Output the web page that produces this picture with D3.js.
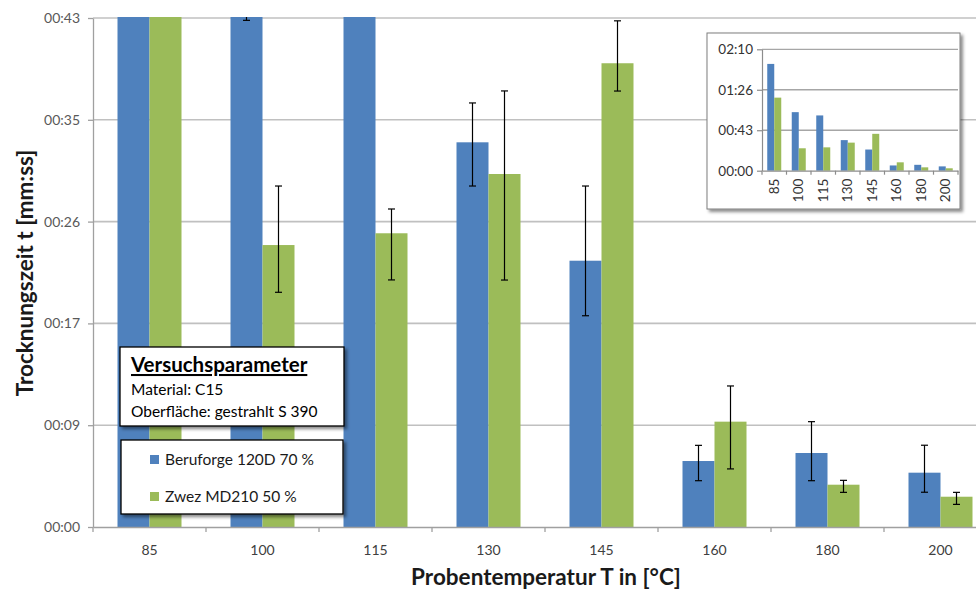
<!DOCTYPE html>
<html>
<head>
<meta charset="utf-8">
<script src="https://cdn.jsdelivr.net/npm/d3@7/dist/d3.min.js"></script>
<style>
    body { margin: 0; background: #fff; }
    svg { display: block; font-family: Lato, "Open Sans", sans-serif; }
</style>
</head>
<body>
<svg id="chart" width="976" height="590"></svg>
<script>
'use strict';

// temperatures (x categories)
var categories = ["85", "100", "115", "130", "145", "160", "180", "200"];
var seriesNames = ["Beruforge 120D 70 %", "Zwez MD210 50 %"];
var seriesColors = ["#4F81BD", "#9BBB59"];

// drying time in seconds
var beruforge = [114, 62.5, 59, 32.65, 22.6, 5.6, 6.28, 4.61];
var beruforgePlus = [6, 8, 5, 3.34, 6.34, 1.33, 2.66, 2.33];
var beruforgeMinus = [6, 19.5, 5, 3.71, 4.67, 1.67, 2.35, 1.66];
var zwez = [78, 23.93, 24.93, 29.96, 39.36, 8.94, 3.59, 2.57];
var zwezPlus = [6, 5.01, 2.06, 7.05, 3.6, 3.03, 0.37, 0.37];
var zwezMinus = [6, 4.01, 3.96, 9.0, 2.36, 4.01, 0.65, 0.65];

// axis ticks in seconds (excel time steps of 0.0001 day)
var yTicks = [0, 8.64, 17.28, 25.92, 34.56, 43.2];
var insetTicks = [0, 43.2, 86.4, 129.6];

var paramTitle = "Versuchsparameter";
var paramLines = ["Material: C15", "Oberfläche: gestrahlt S 390"];
var xTitle = "Probentemperatur T in [°C]";
var yTitle = "Trocknungszeit t [mm:ss]";

var series = [
    { name: seriesNames[0], color: seriesColors[0], values: beruforge, plus: beruforgePlus, minus: beruforgeMinus },
    { name: seriesNames[1], color: seriesColors[1], values: zwez, plus: zwezPlus, minus: zwezMinus }
];

var svg = d3.select("#chart");

function mmss(v) {
    var s = Math.round(v);
    return d3.format("02")(Math.floor(s / 60)) + ":" + d3.format("02")(s % 60);
}

// drop shadow for boxes
var defs = svg.append("defs");
defs.append("filter")
    .attr("id", "shadow")
    .attr("x", "-10%").attr("y", "-10%")
    .attr("width", "130%").attr("height", "140%")
    .append("feDropShadow")
    .attr("dx", 2.5).attr("dy", 2.5)
    .attr("stdDeviation", 1.5)
    .attr("flood-color", "#000")
    .attr("flood-opacity", 0.45);

/************************************************ main chart ******************************************************/
var plot = { left: 93, top: 18, bottom: 527, step: 113 };
plot.right = plot.left + plot.step * categories.length;

defs.append("clipPath")
    .attr("id", "plotClip")
    .append("rect")
    .attr("x", plot.left)
    .attr("y", plot.top - 1)
    .attr("width", plot.right - plot.left)
    .attr("height", plot.bottom - plot.top + 1);

var x = d3.scaleBand()
    .domain(categories)
    .range([plot.left, plot.right]);

var xSub = d3.scaleBand()
    .domain([0, 1])
    .range([24.5, 88.5]);

var y = d3.scaleLinear()
    .domain([0, 43.2])
    .range([plot.bottom, plot.top]);

// gridlines
svg.append("g")
    .selectAll("line")
    .data(yTicks.slice(1))
    .enter()
    .append("line")
    .attr("x1", plot.left)
    .attr("x2", plot.right)
    .attr("y1", function (d) { return y(d); })
    .attr("y2", function (d) { return y(d); })
    .style("stroke", "#c0c0c0")
    .style("stroke-width", 1.6);

// bars
var bars = svg.append("g").attr("clip-path", "url(#plotClip)");
series.forEach(function (s, si) {
    bars.append("g")
        .selectAll("rect")
        .data(s.values)
        .enter()
        .append("rect")
        .attr("x", function (d, i) { return x(categories[i]) + xSub(si); })
        .attr("y", function (d) { return y(d); })
        .attr("width", xSub.bandwidth())
        .attr("height", function (d) { return y(0) - y(d); })
        .style("fill", s.color);
});

// error bars
series.forEach(function (s, si) {
    var g = bars.append("g")
        .selectAll("g")
        .data(s.values)
        .enter()
        .append("g")
        .attr("transform", function (d, i) {
            return "translate(" + (x(categories[i]) + xSub(si) + xSub.bandwidth() / 2) + ",0)";
        })
        .style("stroke", "#000")
        .style("stroke-width", 1.2);
    g.append("line")
        .attr("y1", function (d, i) { return y(d + s.plus[i]); })
        .attr("y2", function (d, i) { return y(d - s.minus[i]); });
    g.append("line")
        .attr("x1", -3.5).attr("x2", 3.5)
        .attr("y1", function (d, i) { return y(d + s.plus[i]); })
        .attr("y2", function (d, i) { return y(d + s.plus[i]); });
    g.append("line")
        .attr("x1", -3.5).attr("x2", 3.5)
        .attr("y1", function (d, i) { return y(d - s.minus[i]); })
        .attr("y2", function (d, i) { return y(d - s.minus[i]); });
});

// y axis
var yAxis = svg.append("g")
    .attr("transform", "translate(" + plot.left + ",0)")
    .call(d3.axisLeft(y).tickValues(yTicks).tickSize(5).tickSizeOuter(0).tickPadding(8).tickFormat(mmss));
yAxis.selectAll("path, line").style("stroke", "#a0a0a0").style("stroke-width", 1.3);
yAxis.selectAll("text")
    .style("font-family", "Lato, sans-serif")
    .style("font-size", "14px")
    .style("fill", "#595959");

// x axis, labels in the middle and ticks between categories
var xAxis = svg.append("g")
    .attr("transform", "translate(0," + plot.bottom + ")")
    .call(d3.axisBottom(x).tickSize(0).tickSizeOuter(0).tickPadding(18));
xAxis.select(".domain").style("stroke", "#a0a0a0").style("stroke-width", 1.3);
xAxis.selectAll("text")
    .style("font-family", "Lato, sans-serif")
    .style("font-size", "14px")
    .style("fill", "#404040");
xAxis.selectAll(".sep")
    .data(categories)
    .enter()
    .append("line")
    .attr("class", "sep")
    .attr("x1", function (d) { return x(d); })
    .attr("x2", function (d) { return x(d); })
    .attr("y1", 0)
    .attr("y2", 5)
    .style("stroke", "#a0a0a0")
    .style("stroke-width", 1.3);

// axis titles
svg.append("text")
    .attr("x", 546)
    .attr("y", 585)
    .attr("text-anchor", "middle")
    .style("font-size", "22.5px")
    .style("font-weight", "bold")
    .style("fill", "#1a1a1a")
    .text(xTitle);

svg.append("text")
    .attr("transform", "translate(33,273) rotate(-90)")
    .attr("text-anchor", "middle")
    .style("font-size", "22.5px")
    .style("font-weight", "bold")
    .style("fill", "#1a1a1a")
    .text(yTitle);

/************************************************ text boxes ******************************************************/
var paramBox = svg.append("g");
paramBox.append("rect")
    .attr("x", 120).attr("y", 347)
    .attr("width", 224).attr("height", 79)
    .style("fill", "#fff")
    .style("stroke", "#000")
    .style("stroke-width", 1.3)
    .attr("filter", "url(#shadow)");
paramBox.append("text")
    .attr("x", 131).attr("y", 372)
    .style("font-size", "20.5px")
    .style("font-weight", "bold")
    .style("text-decoration", "underline")
    .text(paramTitle);
paramBox.selectAll(".line")
    .data(paramLines)
    .enter()
    .append("text")
    .attr("class", "line")
    .attr("x", 131)
    .attr("y", function (d, i) { return 395 + i * 22; })
    .style("font-size", "15.5px")
    .text(function (d) { return d; });

var legend = svg.append("g");
legend.append("rect")
    .attr("x", 121).attr("y", 440)
    .attr("width", 222).attr("height", 74)
    .style("fill", "#fff")
    .style("stroke", "#000")
    .style("stroke-width", 1.3)
    .attr("filter", "url(#shadow)");
var item = legend.selectAll(".item")
    .data(series)
    .enter()
    .append("g")
    .attr("class", "item")
    .attr("transform", function (d, i) { return "translate(150," + (455 + i * 37) + ")"; });
item.append("rect")
    .attr("width", 9).attr("height", 9)
    .style("fill", function (d) { return d.color; });
item.append("text")
    .attr("x", 15).attr("y", 9.5)
    .style("font-size", "15.5px")
    .style("fill", "#1a1a1a")
    .text(function (d) { return d.name; });

/************************************************ inset chart ******************************************************/
var inset = { left: 762, top: 49.3, bottom: 170.7, step: 24.5 };
inset.right = inset.left + inset.step * categories.length;

var ins = svg.append("g");
ins.append("rect")
    .attr("x", 707).attr("y", 33)
    .attr("width", 253).attr("height", 176)
    .style("fill", "#fff")
    .style("stroke", "#7f7f7f")
    .style("stroke-width", 1)
    .attr("filter", "url(#shadow)");

var ix = d3.scaleBand()
    .domain(categories)
    .range([inset.left, inset.right]);
var ixSub = d3.scaleBand()
    .domain([0, 1])
    .range([5.25, 19.25]);
var iy = d3.scaleLinear()
    .domain([0, 129.6])
    .range([inset.bottom, inset.top]);

ins.append("g")
    .selectAll("line")
    .data(insetTicks.slice(1))
    .enter()
    .append("line")
    .attr("x1", inset.left)
    .attr("x2", inset.right)
    .attr("y1", function (d) { return iy(d); })
    .attr("y2", function (d) { return iy(d); })
    .style("stroke", "#a6a6a6")
    .style("stroke-width", 1.3);

series.forEach(function (s, si) {
    ins.append("g")
        .selectAll("rect")
        .data(s.values)
        .enter()
        .append("rect")
        .attr("x", function (d, i) { return ix(categories[i]) + ixSub(si); })
        .attr("y", function (d) { return iy(d); })
        .attr("width", ixSub.bandwidth())
        .attr("height", function (d) { return iy(0) - iy(d); })
        .style("fill", s.color);
});

var iyAxis = ins.append("g")
    .attr("transform", "translate(" + inset.left + ",0)")
    .call(d3.axisLeft(iy).tickValues(insetTicks).tickSize(5).tickSizeOuter(0).tickPadding(4).tickFormat(mmss));
iyAxis.selectAll("path, line").style("stroke", "#8c8c8c").style("stroke-width", 1.2);
iyAxis.selectAll("text")
    .style("font-family", "Lato, sans-serif")
    .style("font-size", "13.5px")
    .style("fill", "#333");

var ixAxis = ins.append("g")
    .attr("transform", "translate(0," + inset.bottom + ")")
    .call(d3.axisBottom(ix).tickSize(0).tickSizeOuter(0));
ixAxis.select(".domain").style("stroke", "#8c8c8c").style("stroke-width", 1.2);
ixAxis.selectAll("text")
    .attr("transform", "translate(0,8) rotate(-90)")
    .attr("x", 0)
    .attr("y", 0)
    .attr("dy", "0.35em")
    .attr("text-anchor", "end")
    .style("font-family", "Lato, sans-serif")
    .style("font-size", "13.5px")
    .style("fill", "#333");
ixAxis.selectAll(".sep")
    .data(categories.concat(["end"]))
    .enter()
    .append("line")
    .attr("class", "sep")
    .attr("x1", function (d, i) { return inset.left + i * inset.step; })
    .attr("x2", function (d, i) { return inset.left + i * inset.step; })
    .attr("y1", 0)
    .attr("y2", 4)
    .style("stroke", "#8c8c8c")
    .style("stroke-width", 1.2);
</script>
</body>
</html>
